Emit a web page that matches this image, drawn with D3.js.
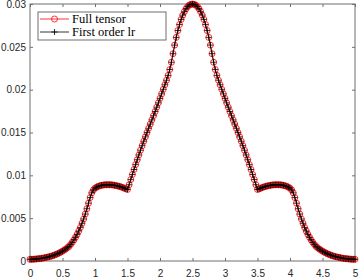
<!DOCTYPE html>
<html>
<head>
<meta charset="utf-8">
<script src="https://cdn.jsdelivr.net/npm/d3@7"></script>
<style>
  body { margin: 0; background: #fff; }
  .tick text { font-family: "Liberation Sans", Arial, sans-serif; font-size: 10px; fill: #262626; }
</style>
</head>
<body>
<div class="canvas"></div>
<script>
//===============Data===========================//
// sample grid: 0 to 5, step 0.025 (201 points)
const xs = d3.range(0, 201).map(i => i * 0.025);

const fullTensor = [
    0.00020, 0.00020, 0.00021, 0.00022, 0.00024, 0.00026, 0.00028, 0.00031, 0.00034, 0.00038,
    0.00042, 0.00046, 0.00051, 0.00056, 0.00062, 0.00069, 0.00077, 0.00085, 0.00094, 0.00104,
    0.00115, 0.00127, 0.00140, 0.00155, 0.00170, 0.00193, 0.00218, 0.00246, 0.00277, 0.00311,
    0.00350, 0.00392, 0.00440, 0.00490, 0.00548, 0.00610, 0.00675, 0.00740, 0.00795, 0.00830,
    0.00850, 0.00862, 0.00871, 0.00878, 0.00883, 0.00887, 0.00889, 0.00890, 0.00890, 0.00890,
    0.00889, 0.00887, 0.00884, 0.00880, 0.00876, 0.00871, 0.00865, 0.00858, 0.00850, 0.00842,
    0.00835, 0.00890, 0.00950, 0.01010, 0.01068, 0.01125, 0.01182, 0.01238, 0.01293, 0.01346,
    0.01398, 0.01449, 0.01499, 0.01549, 0.01598, 0.01647, 0.01696, 0.01745, 0.01795, 0.01846,
    0.01898, 0.01951, 0.02004, 0.02057, 0.02110, 0.02167, 0.02235, 0.02320, 0.02420, 0.02520,
    0.02610, 0.02690, 0.02760, 0.02820, 0.02870, 0.02910, 0.02945, 0.02970, 0.02987, 0.02996,
    0.03000,
    0.02996, 0.02987, 0.02970, 0.02945, 0.02910, 0.02870, 0.02820, 0.02760, 0.02690, 0.02610,
    0.02520, 0.02420, 0.02320, 0.02235, 0.02167, 0.02110, 0.02057, 0.02004, 0.01951, 0.01898,
    0.01846, 0.01795, 0.01745, 0.01696, 0.01647, 0.01598, 0.01549, 0.01499, 0.01449, 0.01398,
    0.01346, 0.01293, 0.01238, 0.01182, 0.01125, 0.01068, 0.01010, 0.00950, 0.00890, 0.00835,
    0.00842, 0.00850, 0.00858, 0.00865, 0.00871, 0.00876, 0.00880, 0.00884, 0.00887, 0.00889,
    0.00890, 0.00890, 0.00890, 0.00889, 0.00887, 0.00883, 0.00878, 0.00871, 0.00862, 0.00850,
    0.00830, 0.00795, 0.00740, 0.00675, 0.00610, 0.00548, 0.00490, 0.00440, 0.00392, 0.00350,
    0.00311, 0.00277, 0.00246, 0.00218, 0.00193, 0.00170, 0.00155, 0.00140, 0.00127, 0.00115,
    0.00104, 0.00094, 0.00085, 0.00077, 0.00069, 0.00062, 0.00056, 0.00051, 0.00046, 0.00042,
    0.00038, 0.00034, 0.00031, 0.00028, 0.00026, 0.00024, 0.00022, 0.00021, 0.00020, 0.00020
];

// the low-rank result sits right on top of the full one
const firstOrderLr = fullTensor.slice();

const xTicks = [0, 0.5, 1, 1.5, 2, 2.5, 3, 3.5, 4, 4.5, 5];
const yTicks = [0, 0.005, 0.01, 0.015, 0.02, 0.025, 0.03];
const seriesNames = ['Full tensor', 'First order lr'];

//===============Set up===========================//
const svg = d3.select('.canvas')
    .append('svg')
    .attr('width', 360)
    .attr('height', 278);

const margin = { top: 4, right: 5, bottom: 17, left: 30 };
const graphWidth = 360 - margin.left - margin.right;
const graphHeight = 278 - margin.top - margin.bottom;

const graph = svg.append('g')
    .attr('transform', `translate(${margin.left},${margin.top})`);

const x = d3.scaleLinear().domain([0, 5]).range([0, graphWidth]);
const y = d3.scaleLinear().domain([0, 0.03]).range([graphHeight, 0]);

const axisColor = '#6e6e6e';

const xAxis = d3.axisBottom(x).tickValues(xTicks).tickSize(-3).tickPadding(8.5).tickFormat(d => d);
const yAxis = d3.axisLeft(y).tickValues(yTicks).tickSize(-3).tickPadding(4).tickFormat(d => d);
const xTop = d3.axisTop(x).tickValues(xTicks).tickSize(-3).tickFormat('');
const yRight = d3.axisRight(y).tickValues(yTicks).tickSize(-3).tickFormat('');

graph.append('g').attr('transform', `translate(0,${graphHeight})`).call(xAxis);
graph.append('g').call(yAxis);
graph.append('g').call(xTop);
graph.append('g').attr('transform', `translate(${graphWidth},0)`).call(yRight);

graph.selectAll('.domain').remove();
graph.selectAll('.tick line').attr('stroke', axisColor);

graph.append('rect')
    .attr('width', graphWidth)
    .attr('height', graphHeight)
    .attr('fill', 'none')
    .attr('stroke', axisColor)
    .attr('stroke-width', 1);

//===============Series===========================//
const line = d3.line()
    .x((d, i) => x(xs[i]))
    .y(d => y(d));

graph.append('path')
    .datum(fullTensor)
    .attr('fill', 'none')
    .attr('stroke', '#ff0000')
    .attr('stroke-width', 0.8)
    .attr('d', line);

graph.selectAll('circle.full')
    .data(fullTensor)
    .enter()
    .append('circle')
    .attr('class', 'full')
    .attr('cx', (d, i) => x(xs[i]))
    .attr('cy', d => y(d))
    .attr('r', 3)
    .attr('fill', 'none')
    .attr('stroke', '#ff0000')
    .attr('stroke-width', 0.8);

graph.append('path')
    .datum(firstOrderLr)
    .attr('fill', 'none')
    .attr('stroke', '#000')
    .attr('stroke-width', 0.8)
    .attr('d', line);

const plus = 'M-3,0H3M0,-3V3';
graph.selectAll('path.lr')
    .data(firstOrderLr)
    .enter()
    .append('path')
    .attr('class', 'lr')
    .attr('transform', (d, i) => `translate(${x(xs[i])},${y(d)})`)
    .attr('d', plus)
    .attr('stroke', '#000')
    .attr('stroke-width', 0.8);

//===============Legend===========================//
const legend = graph.append('g').attr('transform', 'translate(8,8)');

legend.append('rect')
    .attr('width', 128)
    .attr('height', 28)
    .attr('fill', '#fff')
    .attr('stroke', axisColor)
    .attr('stroke-width', 1);

const rows = legend.selectAll('g.row')
    .data(seriesNames)
    .enter()
    .append('g')
    .attr('transform', (d, i) => `translate(0,${7 + i * 13})`);

rows.append('line')
    .attr('x1', 2).attr('x2', 31)
    .attr('stroke', (d, i) => i === 0 ? '#ff0000' : '#000')
    .attr('stroke-width', 0.8);

rows.filter((d, i) => i === 0).append('circle')
    .attr('cx', 16.5).attr('r', 3)
    .attr('fill', 'none').attr('stroke', '#ff0000').attr('stroke-width', 0.8);

rows.filter((d, i) => i === 1).append('path')
    .attr('transform', 'translate(16.5,0)')
    .attr('d', plus).attr('stroke', '#000').attr('stroke-width', 0.8);

rows.append('text')
    .attr('x', 34)
    .attr('dy', '0.35em')
    .attr('font-family', '"Liberation Serif", "Times New Roman", serif')
    .attr('font-size', '12.5px')
    .attr('fill', '#000')
    .text(d => d);
</script>
</body>
</html>
